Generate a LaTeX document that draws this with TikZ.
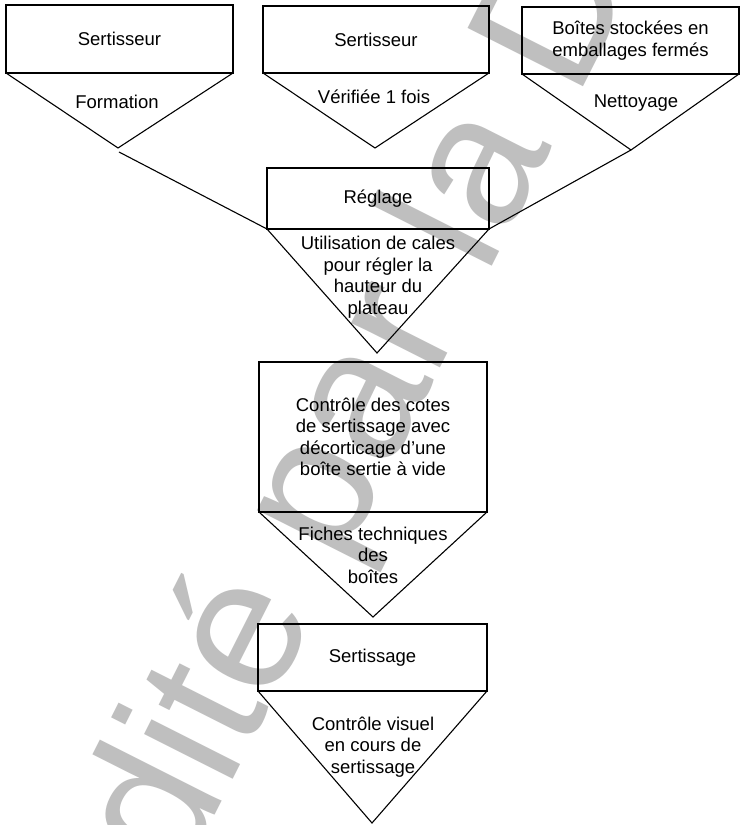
\documentclass[tikz,border=0pt]{standalone}
\usepackage{fontspec}
\setmainfont{Liberation Sans}
\newcommand{\boxfont}{\fontsize{18.5}{21.5}\selectfont}
\newcommand{\markfont}{\fontsize{188}{188}\selectfont}
\begin{document}
\begin{tikzpicture}[x=1pt,y=1pt,
  box/.style={draw, line width=1.1pt, rectangle, inner sep=0pt, outer sep=0pt, align=center, font=\boxfont},
  lbl/.style={align=center, inner sep=0pt, font=\boxfont},
  edge/.style={line width=1.1pt, line join=miter},
  wm/.style={anchor=base west, rotate=63.2, inner sep=0pt, text=black!25, font=\markfont}]
\useasboundingbox (0,0) rectangle (740,825);
\clip (0,0) rectangle (740,825);
\fill[white] (0,0) rectangle (740,825);

% background mark
\node[wm] (mark) at (123.8,-170.4) {Édité par la D};

% top row of inputs
\node[box, minimum width=227, minimum height=68] (b1) at (119.5,786) {Sertisseur};
\node[box, minimum width=226, minimum height=67] (b2) at (376,785.5) {Sertisseur};
\node[box, minimum width=217, minimum height=67] (b3) at (630.5,784.5) {Boîtes stockées en\\emballages fermés};
\coordinate (a1) at (118,677);
\coordinate (a2) at (375,677);
\coordinate (a3) at (631,675);
\draw[edge] (b1.south west) -- (a1) -- (b1.south east);
\draw[edge] (b2.south west) -- (a2) -- (b2.south east);
\draw[edge] (b3.south west) -- (a3) -- (b3.south east);
\node[lbl] (t1) at (117,723) {Formation};
\node[lbl] (t2) at (374,728) {Vérifiée 1 fois};
\node[lbl] (t3) at (636,722) {Nettoyage};

% setting step
\node[box, minimum width=222, minimum height=61] (b4) at (378,626.5) {Réglage};
\coordinate (a4) at (377,472);
\draw[edge] (b4.south west) -- (a4) -- (b4.south east);
\node[lbl] (t4) at (378,548) {Utilisation de cales\\pour régler la\\hauteur du\\plateau};

% links from the inputs
\coordinate (c1) at (119,673);
\draw[edge] (c1) -- (b4.south west);
\draw[edge] (a3) -- (b4.south east);

% seam check
\node[box, minimum width=228, minimum height=150] (b5) at (373,388) {Contrôle des cotes\\de sertissage avec\\décorticage d’une\\boîte sertie à vide};
\coordinate (a5) at (373,208);
\draw[edge] (b5.south west) -- (a5) -- (b5.south east);
\node[lbl] (t5) at (373,270) {Fiches techniques\\des\\boîtes};

% seaming
\node[box, minimum width=229, minimum height=67] (b6) at (372.5,167.5) {Sertissage};
\coordinate (a6) at (372,2);
\draw[edge] (b6.south west) -- (a6) -- (b6.south east);
\node[lbl] (t6) at (373,78) {Contrôle visuel\\en cours de\\sertissage};
\end{tikzpicture}
\end{document}
